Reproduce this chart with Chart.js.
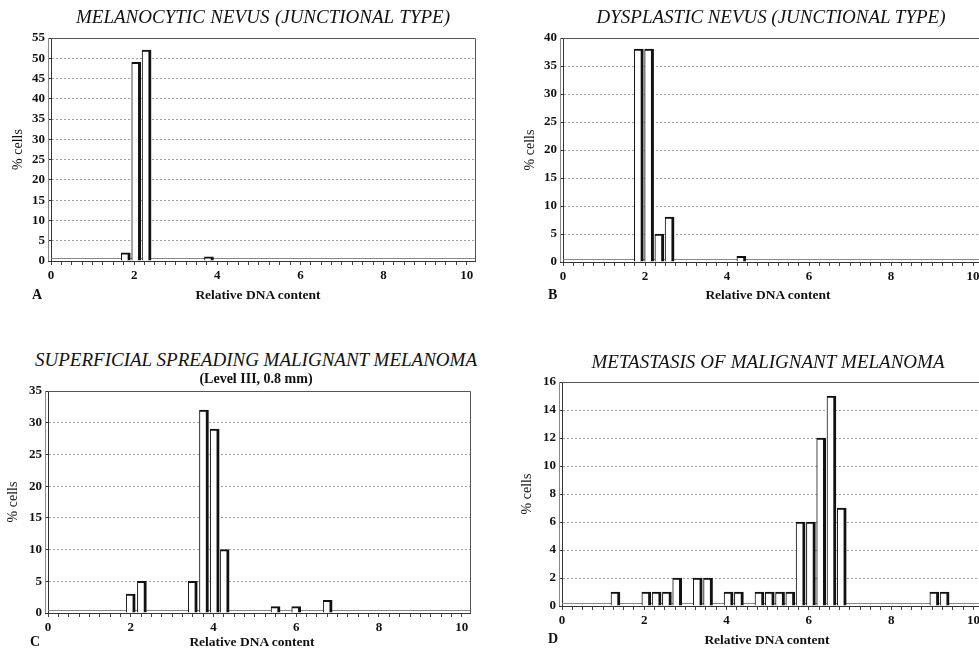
<!DOCTYPE html>
<html>
<head>
<meta charset="utf-8">
<script src="https://cdn.jsdelivr.net/npm/chart.js@4.4.1/dist/chart.umd.min.js"></script>
<style>
html,body{margin:0;padding:0;background:#fff;overflow:hidden;width:979px;height:650px;position:relative;}
canvas{position:absolute;}
.t{position:absolute;font-family:"Liberation Serif","Times New Roman",serif;color:#111;white-space:nowrap;}
.title{font-style:italic;font-size:19px;line-height:19px;}
.sub{font-weight:bold;font-size:14px;line-height:14px;}
.xt{font-weight:bold;font-size:13.5px;line-height:14px;}
.lt{font-weight:bold;font-size:14px;line-height:14px;}
</style>
</head>
<body>
<script>
// ---- data ----
const titleA = "MELANOCYTIC NEVUS (JUNCTIONAL TYPE)";
const titleB = "DYSPLASTIC NEVUS (JUNCTIONAL TYPE)";
const titleC = "SUPERFICIAL SPREADING MALIGNANT MELANOMA";
const subtitleC = "(Level III, 0.8 mm)";
const titleD = "METASTASIS OF MALIGNANT MELANOMA";
const xAxisTitle = "Relative DNA content";
const yAxisTitle = "% cells";
const xTickLabels = [0, 2, 4, 6, 8, 10];

const aDna   = [1.8, 2.05, 2.3, 3.8];
const aCells = [2, 49, 52, 1];

const bDna   = [1.85, 2.1, 2.35, 2.6, 4.35];
const bCells = [38, 38, 5, 8, 1];

const cDna   = [2.0, 2.27, 3.5, 3.77, 4.03, 4.27, 5.5, 6.0, 6.76];
const cCells = [3, 5, 5, 32, 29, 10, 1, 1, 2];

const dDna   = [1.3, 2.05, 2.3, 2.55, 2.8, 3.3, 3.55, 4.05, 4.3, 4.8, 5.05, 5.3, 5.55, 5.8, 6.05, 6.3, 6.55, 6.8, 9.05, 9.3];
const dCells = [1, 1, 1, 1, 2, 2, 2, 1, 1, 1, 1, 1, 1, 6, 6, 12, 15, 7, 1, 1];

const yMaxA = 55, yStepA = 5;
const yMaxB = 40, yStepB = 5;
const yMaxC = 35, yStepC = 5;
const yMaxD = 16, yStepD = 2;

// ---- layout / style ----
const FONT = '"Liberation Serif","Times New Roman",serif';

const framePlugin = {
  id: 'frame',
  beforeDatasetsDraw(chart) {
    const {ctx, chartArea: a} = chart;
    ctx.save();
    ctx.lineWidth = 1;
    ctx.strokeStyle = '#555';
    ctx.beginPath();
    ctx.moveTo(a.left, a.top + 0.5); ctx.lineTo(a.right + 0.5, a.top + 0.5);
    ctx.lineTo(a.right + 0.5, a.bottom);
    ctx.stroke();
    ctx.strokeStyle = '#888';
    ctx.beginPath();
    ctx.moveTo(a.left, a.bottom - 2.5); ctx.lineTo(a.right, a.bottom - 2.5);
    ctx.moveTo(a.left - 2.5, a.top); ctx.lineTo(a.left - 2.5, a.bottom);
    ctx.stroke();
    ctx.restore();
  }
};

function makePanel(dna, cells, yMax, yStep, L) {
  const cv = document.createElement('canvas');
  cv.width = L.w; cv.height = L.h;
  cv.style.left = L.left + 'px'; cv.style.top = L.top + 'px';
  cv.style.width = L.w + 'px'; cv.style.height = L.h + 'px';
  document.body.appendChild(cv);
  new Chart(cv, {
    type: 'bar',
    data: {
      datasets: [{
        data: dna.map((x, i) => ({x: x, y: cells[i]})),
        backgroundColor: '#ffffff',
        borderColor: '#111111',
        borderWidth: {left: 1, top: 2, right: 3, bottom: 0},
        borderSkipped: false,
        barThickness: 9
      }]
    },
    options: {
      responsive: false,
      animation: false,
      events: [],
      layout: {padding: {left: 0, top: L.padTop, right: L.padRight, bottom: 0}},
      plugins: {legend: {display: false}, tooltip: {enabled: false}},
      scales: {
        x: {
          type: 'linear', min: 0, max: L.xMax, offset: false,
          grid: {drawOnChartArea: false, drawTicks: true, tickLength: 4, color: '#444', offset: false},
          border: {color: '#333', width: 1},
          ticks: {
            stepSize: 0.25, autoSkip: false, maxRotation: 0, minRotation: 0,
            includeBounds: false, maxTicksLimit: 100, padding: 3,
            color: '#111', font: {family: FONT, size: 13, weight: 'bold'},
            callback: (v) => (xTickLabels.includes(v) ? String(v) : '')
          },
          afterFit(s) { s.height = L.xH; }
        },
        y: {
          min: 0, max: yMax,
          grid: {
            color: (c) => (c.tick && (c.tick.value === 0 || c.tick.value === yMax)) ? 'rgba(0,0,0,0)' : '#a0a0a0',
            tickColor: '#333', tickLength: 3, lineWidth: 1
          },
          border: {display: true, color: '#333', width: 1, dash: [2, 2]},
          ticks: {stepSize: yStep, padding: 3, color: '#111', font: {family: FONT, size: 13, weight: 'bold'}},
          title: {display: true, text: yAxisTitle, color: '#111', font: {family: FONT, size: 14}, padding: {top: L.titlePad, bottom: 0}},
          afterFit(s) { s.width = L.yW; }
        }
      }
    },
    plugins: [framePlugin]
  });
}

function addText(txt, cls, cx, top, targetW) {
  const d = document.createElement('div');
  d.className = 't ' + cls;
  d.textContent = txt;
  d.style.top = top + 'px';
  document.body.appendChild(d);
  if (targetW) {
    const gaps = txt.split(' ').length - 1;
    const w0 = d.getBoundingClientRect().width;
    if (gaps > 0) d.style.wordSpacing = ((targetW - w0) / gaps) + 'px';
  }
  const w = d.getBoundingClientRect().width;
  d.style.left = (cx - w / 2) + 'px';
  return d;
}
function addLeft(txt, cls, left, top) {
  const d = document.createElement('div');
  d.className = 't ' + cls;
  d.textContent = txt;
  d.style.left = left + 'px'; d.style.top = top + 'px';
  document.body.appendChild(d);
}

makePanel(aDna, aCells, yMaxA, yStepA, {left: 0,   top: 20,  w: 490, h: 270, yW: 51, padTop: 18, padRight: 15, xH: 29, xMax: 10.2,  titlePad: 10});
makePanel(bDna, bCells, yMaxB, yStepB, {left: 490, top: 20,  w: 510, h: 270, yW: 73, padTop: 18, padRight: 13, xH: 28, xMax: 10.34, titlePad: 32});
makePanel(cDna, cCells, yMaxC, yStepC, {left: 0,   top: 375, w: 490, h: 265, yW: 48, padTop: 16, padRight: 20, xH: 27, xMax: 10.2,  titlePad: 5});
makePanel(dDna, dCells, yMaxD, yStepD, {left: 490, top: 365, w: 510, h: 267, yW: 72, padTop: 17, padRight: 13, xH: 26, xMax: 10.33, titlePad: 29});

addText(titleA, 'title', 263, 7, 374);
addText(titleB, 'title', 771, 7, 349);
addText(titleC, 'title', 256, 350, 442);
addText(subtitleC, 'sub', 256, 372);
addText(titleD, 'title', 768, 352, 353);

addText(xAxisTitle, 'xt', 258, 288);
addText(xAxisTitle, 'xt', 768, 288);
addText(xAxisTitle, 'xt', 252, 635);
addText(xAxisTitle, 'xt', 767, 633);

addLeft('A', 'lt', 32, 288);
addLeft('B', 'lt', 548, 288);
addLeft('C', 'lt', 30, 635);
addLeft('D', 'lt', 548, 632);
</script>
</body>
</html>
